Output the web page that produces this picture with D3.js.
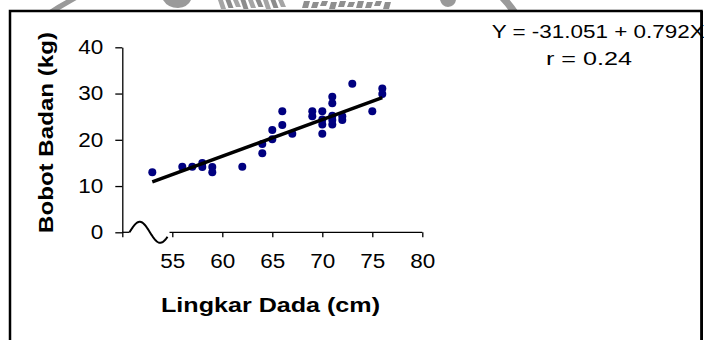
<!DOCTYPE html>
<html>
<head>
<meta charset="utf-8">
<script src="https://cdn.jsdelivr.net/npm/d3@7"></script>
<style>
  html, body { margin: 0; padding: 0; background: #fff; }
  svg { display: block; }
  text { font-family: "Liberation Sans", Arial, sans-serif; fill: #000; }
</style>
</head>
<body>
<svg id="chart" width="704" height="340"></svg>
<script>
// Lingkar dada (cm) vs bobot badan (kg)
const lingkarDada = [53, 56, 57, 58, 58, 59, 59, 62, 64, 64, 65, 65, 66, 66, 67,
                     69, 69, 70, 70, 70, 70, 71, 71, 71, 71, 71, 72, 72, 73, 75, 76, 76];
const bobotBadan  = [13, 14.2, 14.2, 15, 14.1, 14.1, 13, 14.2, 19.1, 17.1, 22.1, 20.1, 26.2, 23.2, 21.3,
                     26.2, 25.1, 26.2, 24.4, 23.3, 21.3, 29.3, 27.9, 25.2, 24.3, 23.3, 25.1, 24.3, 32.1, 26.2, 31.1, 29.9];

// Regression Y = a + bX, drawn over the observed range of X
const intercept = -31.051;
const slope = 0.792;
const fitRange = [53, 76];
const equationLabel = "Y = -31.051 + 0.792X";
const rLabel = "r = 0.24";

const xTicks = [50, 55, 60, 65, 70, 75, 80];
const yTicks = [0, 10, 20, 30, 40];

const svg = d3.select("#chart");

// faint grey seal showing through at the top edge
const seal = svg.append("g").attr("fill", "#9a9a9a").attr("stroke", "none");
seal.append("path").attr("d", "M48,11 Q58,4 70,-2 L80,-2 Q66,6 56,12 Z");
seal.append("path").attr("d", "M163,0 Q168,8 178,8 Q188,7 191,0 Z");
for (let i = 0; i < 9; i++) {
  seal.append("path")
    .attr("d", `M${218 + i * 7.5},0 l5,0 l3,${9 - (i % 3)} l-5,0 Z`)
    .attr("fill", i % 2 ? "#8c8c8c" : "#a5a5a5");
}
for (let i = 0; i < 10; i++) {
  seal.append("path")
    .attr("d", `M${304 + i * 9},${1 + (i % 2)} l6,0 l-2,${7 - (i % 3)} l-6,0 Z`)
    .attr("fill", "#8f8f8f");
}
seal.append("path").attr("d", "M440,0 Q442,7 448,7 Q455,6 456,0 Z");
seal.append("path").attr("d", "M498,-2 L508,-2 Q514,5 518,11 L509,11 Q505,5 498,-2 Z");

// outer frame
svg.append("rect")
  .attr("x", 10).attr("y", 11)
  .attr("width", 691.5).attr("height", 400)
  .attr("fill", "none").attr("stroke", "#000").attr("stroke-width", 2.5);

const x = d3.scaleLinear().domain([50, 80]).range([122.3, 422.3]);
const y = d3.scaleLinear().domain([0, 40]).range([232.3, 47.3]);

// y axis
const yAxis = svg.append("g")
  .attr("transform", `translate(${x(50)},0)`)
  .call(d3.axisLeft(y).tickValues(yTicks).tickSize(7).tickPadding(12).tickSizeOuter(0));
yAxis.selectAll("text")
  .attr("font-size", 20)
  .attr("font-family", "Liberation Sans, Arial, sans-serif")
  .attr("textLength", d => String(d).length * 12.5)
  .attr("lengthAdjust", "spacingAndGlyphs");

// x axis (baseline drawn separately because of the scale break)
const xAxis = svg.append("g")
  .attr("transform", `translate(0,${y(0)})`)
  .call(d3.axisBottom(x).tickValues(xTicks).tickFormat(d => d === 50 ? "" : d)
        .tickSize(5).tickPadding(17).tickSizeOuter(0));
xAxis.select(".domain").remove();
xAxis.selectAll("text")
  .attr("font-size", 20)
  .attr("font-family", "Liberation Sans, Arial, sans-serif")
  .attr("textLength", d => d === 50 ? null : String(d).length * 12.5)
  .attr("lengthAdjust", "spacingAndGlyphs");

[svg.selectAll(".tick line"), yAxis.select(".domain")].forEach(s =>
  s.attr("stroke", "#000").attr("stroke-width", 1.3));

const breakStart = 50.72, breakEnd = 54.52;
const axisLine = svg.append("g").attr("stroke", "#000").attr("stroke-width", 1.3);
axisLine.append("line")
  .attr("x1", x(50)).attr("x2", x(breakStart)).attr("y1", y(0)).attr("y2", y(0));
axisLine.append("line")
  .attr("x1", x(breakEnd) + 2).attr("x2", x(80)).attr("y1", y(0)).attr("y2", y(0));

// break symbol: one sine period across the gap
const wave = d3.range(0, 1.0001, 0.02).map(t => [
  x(breakStart) + t * (x(breakEnd) - x(breakStart)),
  y(0) - 10.5 * Math.sin(t * 2 * Math.PI * 0.93)
]);
svg.append("path")
  .attr("d", d3.line()(wave))
  .attr("fill", "none").attr("stroke", "#000").attr("stroke-width", 2);

// points
svg.append("g").selectAll("circle")
  .data(lingkarDada.map((d, i) => [d, bobotBadan[i]]))
  .join("circle")
  .attr("cx", d => x(d[0]))
  .attr("cy", d => y(d[1]))
  .attr("r", 4)
  .attr("fill", "#000080");

// fitted line
svg.append("path")
  .attr("d", d3.line().x(d => x(d)).y(d => y(intercept + slope * d))(fitRange))
  .attr("stroke", "#000").attr("stroke-width", 3.5).attr("fill", "none");

// axis titles
svg.append("text")
  .attr("x", 270.5).attr("y", 312)
  .attr("text-anchor", "middle")
  .attr("font-size", 21).attr("font-weight", "bold")
  .attr("textLength", 219).attr("lengthAdjust", "spacingAndGlyphs")
  .text("Lingkar Dada (cm)");

svg.append("text")
  .attr("transform", "translate(53,132.5) rotate(-90)")
  .attr("text-anchor", "middle")
  .attr("font-size", 20).attr("font-weight", "bold")
  .attr("textLength", 201).attr("lengthAdjust", "spacingAndGlyphs")
  .text("Bobot Badan (kg)");

// regression label
svg.append("text")
  .attr("x", 491.7).attr("y", 38)
  .attr("font-size", 17.5)
  .attr("textLength", 213).attr("lengthAdjust", "spacingAndGlyphs")
  .text(equationLabel);
svg.append("text")
  .attr("x", 546).attr("y", 65)
  .attr("font-size", 17.5)
  .attr("textLength", 86).attr("lengthAdjust", "spacingAndGlyphs")
  .text(rLabel);

// keep the frame on top of the label that runs into it
svg.append("line")
  .attr("x1", 701.75).attr("x2", 701.75).attr("y1", 11).attr("y2", 340)
  .attr("stroke", "#000").attr("stroke-width", 2.5);
</script>
</body>
</html>
